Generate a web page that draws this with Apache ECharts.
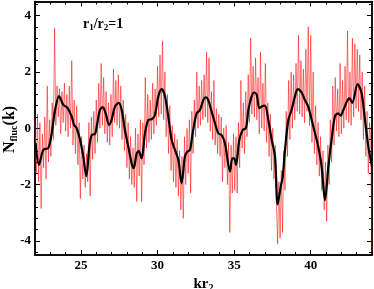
<!DOCTYPE html>
<html><head><meta charset="utf-8">
<script src="https://cdn.jsdelivr.net/npm/echarts@6/dist/echarts.min.js"></script>
<style>html,body{margin:0;padding:0;background:#fff}#c{width:374px;height:289px}</style>
</head><body><div id="c"></div>
<script>
// Axis ranges and ticks
const xMin = 22, xMax = 44, yMin = -4.5, yMax = 4.5;
const xMajorTicks = [25, 30, 35, 40];
const xMinorTicks = [23, 24, 26, 27, 28, 29, 31, 32, 33, 34, 36, 37, 38, 39, 41, 42, 43];
const yMajorTicks = [-4, -2, 0, 2, 4];
const yMinorTicks = [-4.4, -3.6, -3.2, -2.8, -2.4, -1.6, -1.2, -0.8, -0.4, 0.4, 0.8, 1.2, 1.6, 2.4, 2.8, 3.2, 3.6, 4.4];

// Red (raw) series: sampled every redStep starting at redStart
const redStart = 22, redStep = 0.08;
const redValues = [
 0.3,-1.6,0.5,-1.9,0.2,-2.85,-0.2,-1.4,0.4,-1.8,
 1.5,-1.2,0.3,-1.0,0.9,-0.4,3.55,0.1,1.5,0.4,
 1.4,-0.2,1.3,0.2,1.6,-0.1,1.2,-0.3,1.5,0.0,
 2.4,-0.6,1.0,-0.9,0.8,-1.3,0.2,-2.5,-0.3,-1.8,
 -0.6,-2.1,-0.9,-1.9,0.2,-2.4,0.4,-1.1,0.6,-0.9,
 1.0,-0.5,1.6,0.0,2.3,0.1,1.8,-0.2,1.3,-0.5,
 0.9,-0.6,1.2,-0.3,2.1,0.2,1.7,0.1,1.9,0.0,
 1.5,-0.4,1.0,-0.8,0.5,-1.4,0.2,-1.8,-0.3,-2.0,
 -0.7,-2.1,0.0,-2.6,-0.2,-1.7,0.3,-2.6,0.2,-1.3,
 1.8,-0.7,1.2,-0.5,1.0,-0.4,1.6,-0.2,1.4,0.1,
 2.2,0.4,2.6,0.5,3.1,0.3,2.0,-0.3,1.2,-0.9,
 0.8,-1.5,0.1,-1.9,-0.2,-2.1,-0.4,-2.4,-0.8,-2.9,
 -1.0,-3.2,-0.3,-2.0,0.0,-1.6,0.3,-2.3,0.6,-0.9,
 1.0,-0.3,2.0,0.0,1.5,0.1,1.7,0.3,1.9,0.4,
 2.7,0.2,2.5,-0.1,1.3,-0.4,1.7,-0.6,0.7,-0.9,
 0.5,-1.0,0.4,-1.9,0.0,-1.4,0.1,-2.0,-0.5,-3.7,
 -0.6,-2.3,-0.2,-2.2,-0.3,-2.3,0.2,-1.4,1.7,-0.7,
 0.9,-0.9,1.3,-0.3,1.9,0.2,3.2,0.5,2.2,0.4,
 2.5,0.3,1.8,-0.2,2.7,0.0,1.6,-0.1,2.3,-0.5,
 0.9,-1.0,0.5,-1.5,0.0,-1.8,-0.6,-2.7,-4.1,-1.9,
 -3.9,-1.5,-3.7,-0.8,-2.2,0.6,-1.0,1.7,-0.4,2.0,
 0.0,1.9,0.3,2.3,0.6,3.3,0.5,2.4,0.4,2.1,
 0.2,2.8,0.6,3.6,0.1,3.3,-0.5,2.0,-0.9,0.8,
 -1.3,0.2,-1.7,-0.3,-2.2,-0.8,-2.9,-1.2,-3.3,-0.6,
 -2.0,0.3,-1.2,1.5,-0.6,1.8,-0.1,1.4,-0.3,2.3,
 -0.2,1.7,0.0,2.2,0.3,3.45,0.2,2.0,0.1,3.2,
 0.4,3.0,0.7,2.8,0.6,2.6,0.3,2.0,-0.4,1.5,
 -1.0,0.6,-1.6,0.2,-0.5,-4.4
];

// Black (smoothed) series: [kr2, N]
const smoothX = [22.04,22.26,22.54,22.87,23.09,23.31,23.57,23.85,24.11,24.39,24.55,24.72,24.94,25.15,25.35,25.55,25.70,25.92,26.03,26.24,26.42,26.63,26.83,27.00,27.22,27.46,27.66,27.87,28.09,28.31,28.44,28.64,28.77,28.96,29.18,29.40,29.62,29.83,30.05,30.27,30.49,30.70,30.92,31.14,31.36,31.57,31.79,31.94,32.12,32.29,32.55,32.77,32.99,33.14,33.31,33.53,33.75,33.97,34.18,34.40,34.73,34.88,35.01,35.12,35.34,35.56,35.77,35.93,36.14,36.30,36.47,36.64,36.80,37.01,37.23,37.45,37.67,37.84,38.04,38.17,38.32,38.54,38.75,38.97,39.15,39.41,39.62,39.84,40.06,40.28,40.49,40.71,40.93,41.15,41.36,41.58,41.80,41.95,42.13,42.52,42.71,43.06,43.32,43.54,43.76,44.0];
const smoothY = [-0.53,-1.3,-0.77,-0.7,-0.18,0.65,1.14,0.83,0.73,0.42,0.12,0,-0.41,-1.0,-1.7,-0.65,-0.24,-0.2,0.06,0.65,0.75,0.5,0.12,0.3,0.77,0.9,0.65,-0.06,-0.65,-1.25,-1.42,-0.9,-0.8,-1.07,-0.18,0.3,0.32,0.47,1.13,1.39,1.13,0.42,-0.41,-0.77,-1.13,-1.95,-1.0,-0.83,-0.77,-0.18,0.53,0.65,1.0,1.1,1.0,0.59,0.18,-0.18,-0.24,-0.53,-1.54,-1.07,-1.07,-1.3,-0.41,-0.06,0,0.65,1.13,1.27,1.19,0.71,0.77,0.8,0.3,-0.41,-1.0,-2.7,-2.08,-1.72,-0.77,0.3,0.65,1.13,1.39,1.27,1.0,0.77,0.3,-0.18,-0.65,-1.36,-2.55,-1.36,-0.41,0.42,0.53,0.45,0.65,1.07,0.9,1.57,1.25,0.3,-0.65,-1.36];

const redData = redValues.map((v, i) => [+(redStart + i * redStep).toFixed(3), v]);
const blackData = smoothX.map((x, i) => [x, smoothY[i]]);

const FONT = 'Liberation Serif';
const lbl = { color: '#000', fontFamily: FONT, fontWeight: 'bold', fontSize: 13 };
const line = { show: true, onZero: false, lineStyle: { color: '#000', width: 1.5 } };
const gridRect = { left: 35, right: 2, top: 1.5, bottom: 34, outerBoundsMode: 'none' };

function xAx(grid, pos, ticks, len, labels, extra) {
  return Object.assign({
    type: 'value', gridIndex: grid, position: pos, min: xMin, max: xMax,
    axisLine: line,
    axisTick: { show: true, inside: true, length: len, customValues: ticks, lineStyle: { color: '#000', width: 1 } },
    axisLabel: labels ? Object.assign({ show: true, customValues: xMajorTicks, margin: 4 }, lbl) : { show: false },
    splitLine: { show: false }
  }, extra || {});
}
function yAx(grid, pos, ticks, len, labels, extra) {
  return Object.assign({
    type: 'value', gridIndex: grid, position: pos, min: yMin, max: yMax,
    axisLine: line,
    axisTick: { show: true, inside: true, length: len, customValues: ticks, lineStyle: { color: '#000', width: 1 } },
    axisLabel: labels ? Object.assign({ show: true, customValues: yMajorTicks, margin: 4 }, lbl) : { show: false },
    splitLine: { show: false }
  }, extra || {});
}

const chart = echarts.init(document.getElementById('c'), null, { renderer: 'canvas' });
chart.setOption({
  animation: false,
  backgroundColor: '#fff',
  grid: [Object.assign({}, gridRect), Object.assign({}, gridRect)],
  xAxis: [
    xAx(0, 'bottom', xMajorTicks, 5, true, {
      name: '{n|kr}{s|2}', nameLocation: 'middle', nameGap: 13,
      nameTextStyle: { rich: {
        n: { fontFamily: FONT, fontWeight: 'bold', fontSize: 15, color: '#000', lineHeight: 18 },
        s: { fontFamily: FONT, fontWeight: 'bold', fontSize: 10, color: '#000', lineHeight: 10, verticalAlign: 'bottom' } } }
    }),
    xAx(0, 'top', xMajorTicks, 5, false),
    xAx(1, 'bottom', xMinorTicks, 3, false),
    xAx(1, 'top', xMinorTicks, 3, false)
  ],
  yAxis: [
    yAx(0, 'left', yMajorTicks, 5, true),
    yAx(0, 'right', yMajorTicks, 5, false),
    yAx(1, 'left', yMinorTicks, 3, false),
    yAx(1, 'right', yMinorTicks, 3, false)
  ],
  graphic: [{
    type: 'text', x: 10, y: 129.5, rotation: Math.PI / 2, z: 10,
    style: {
      text: '{n|N}{s|fluc}{n|(k)}', align: 'center', verticalAlign: 'middle',
      rich: {
        n: { fontFamily: FONT, fontWeight: 'bold', fontSize: 16, fill: '#000', lineHeight: 18 },
        s: { fontFamily: FONT, fontWeight: 'bold', fontSize: 10, fill: '#000', lineHeight: 10, verticalAlign: 'bottom' }
      }
    }
  }, {
    type: 'text', left: 83, top: 17, z: 10,
    style: {
      text: '{n|r}{s|1}{n|/r}{s|2}{n|=1}',
      rich: {
        n: { fontFamily: FONT, fontWeight: 'bold', fontSize: 14, fill: '#000', lineHeight: 17 },
        s: { fontFamily: FONT, fontWeight: 'bold', fontSize: 9, fill: '#000', lineHeight: 9, verticalAlign: 'bottom' }
      }
    }
  }],
  series: [
    { type: 'line', xAxisIndex: 0, yAxisIndex: 0, data: redData, showSymbol: false, symbol: 'none',
      lineStyle: { color: '#ff0000', width: 0.7, opacity: 0.75 }, z: 2, clip: true },
    { type: 'line', xAxisIndex: 0, yAxisIndex: 0, data: blackData, showSymbol: false, symbol: 'none', smooth: 0.3,
      lineStyle: { color: '#000', width: 2.2 }, z: 3, clip: true }
  ]
});
</script>
</body></html>
